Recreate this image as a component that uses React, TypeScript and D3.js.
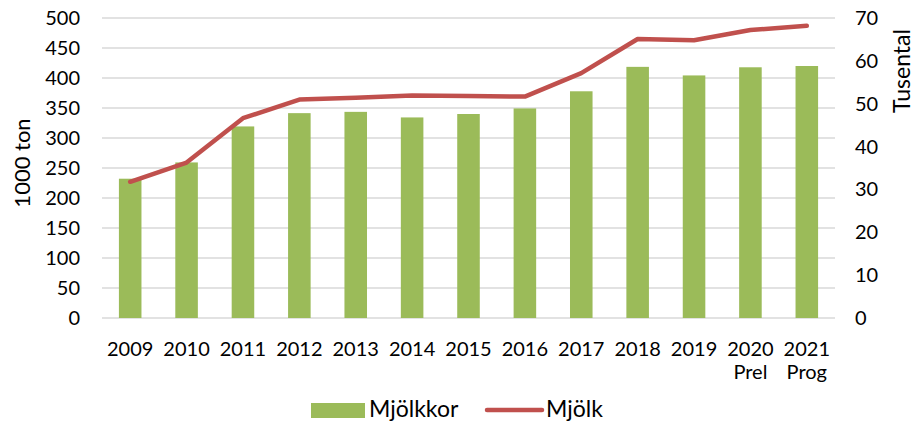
import React from "react";
import * as d3 from "d3";

const years = ["2009","2010","2011","2012","2013","2014","2015","2016","2017","2018","2019","2020","2021"];
const subLabels = ["","","","","","","","","","","","Prel","Prog"];
const cows = [32.5, 36.3, 44.7, 47.8, 48.1, 46.8, 47.6, 48.9, 52.9, 58.6, 56.6, 58.5, 58.8]; // Mjölkkor, tusental
const milk = [227, 259, 333, 364, 367, 371, 370, 369, 408, 465, 463, 480, 487]; // Mjölk, 1000 ton
const leftTicks = [0, 50, 100, 150, 200, 250, 300, 350, 400, 450, 500];
const rightTicks = [0, 10, 20, 30, 40, 50, 60, 70];

const W = 916, H = 423;
const FONT = "Lato, 'Open Sans', sans-serif";

export default function App() {
  const x = d3.scaleBand<string>().domain(years).range([102, 835]).paddingInner(0.6).paddingOuter(0.3);
  const yL = d3.scaleLinear().domain([0, 500]).range([318, 18]);
  const yR = d3.scaleLinear().domain([0, 70]).range([318, 18]);
  const cx = (y: string) => (x(y) as number) + x.bandwidth() / 2;
  const line = d3.line<number>().x((_, i) => cx(years[i])).y((d) => yL(d));

  return (
    <div style={{ position: "fixed", left: 0, top: 0 }}>
      <svg width={W} height={H} style={{ display: "block", background: "#fff" }} fontFamily={FONT}>
        {leftTicks.map((t) => (
          <line key={"g" + t} x1={102} x2={835} y1={yL(t)} y2={yL(t)} stroke="#d9d9d9" strokeWidth={1.5} />
        ))}
        {years.map((y, i) => (
          <rect key={"b" + y} x={x(y)} y={yR(cows[i])} width={x.bandwidth()} height={yR(0) - yR(cows[i])} fill="#9bbb59" />
        ))}
        <path d={line(milk) || ""} fill="none" stroke="#c0504d" strokeWidth={4.5} strokeLinejoin="round" strokeLinecap="round" />
        {leftTicks.map((t) => (
          <text key={"l" + t} x={80} y={yL(t)} dy="0.35em" textAnchor="end" fontSize={20} fill="#000">{t}</text>
        ))}
        {rightTicks.map((t) => (
          <text key={"r" + t} x={855} y={yR(t)} dy="0.35em" textAnchor="start" fontSize={20} fill="#000">{t}</text>
        ))}
        {years.map((y, i) => (
          <g key={"x" + y}>
            <text x={cx(y)} y={356} textAnchor="middle" fontSize={20} fill="#000">{y}</text>
            {subLabels[i] && (
              <text x={cx(y)} y={379} textAnchor="middle" fontSize={20} fill="#000">{subLabels[i]}</text>
            )}
          </g>
        ))}
        <text transform={`translate(30,163) rotate(-90)`} textAnchor="middle" fontSize={22} fill="#000">1000 ton</text>
        <text transform={`translate(910,71) rotate(-90)`} textAnchor="middle" fontSize={23} fill="#000">Tusental</text>
        <rect x={311} y={403} width={54} height={15} fill="#9bbb59" />
        <text x={369} y={417} fontSize={23} fill="#000">Mjölkkor</text>
        <line x1={487} x2={542} y1={410} y2={410} stroke="#c0504d" strokeWidth={4.5} strokeLinecap="round" />
        <text x={546} y={417} fontSize={23} fill="#000">Mjölk</text>
      </svg>
    </div>
  );
}
